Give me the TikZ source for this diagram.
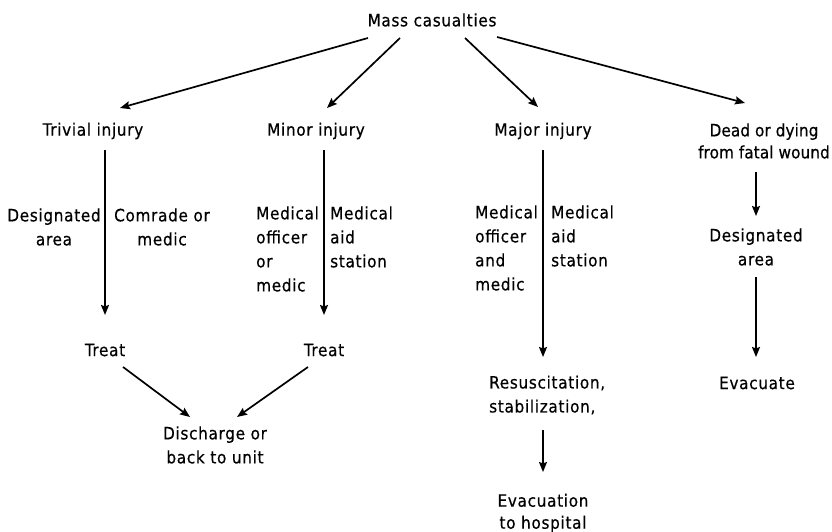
\documentclass[tikz,border=0pt]{standalone}
\usepackage{fontspec}
\setmainfont{DejaVu Sans Condensed}[LetterSpace=4,FakeBold=0.5]
\newfontfamily\tightfont{DejaVu Sans Condensed}[LetterSpace=0.5,FakeBold=0.5]
\usetikzlibrary{arrows.meta}
\begin{document}
\begin{tikzpicture}[x=1pt,y=-1pt,
  lbl/.style={font=\fontsize{17}{24}\selectfont, inner sep=0pt},
  arr/.style={line width=1.7pt, -{Stealth[length=10pt,width=8pt,inset=1.5pt]}}]
\useasboundingbox (0,0) rectangle (832,532);

% top level
\node[lbl] (mass) at (432,20) {Mass casualties};

% categories
\node[lbl] (triv)  at (93,131)  {Trivial injury};
\node[lbl] (minor) at (316,131) {Minor injury};
\node[lbl] (major) at (543,131) {Major injury};
\node[lbl, align=center, font=\tightfont\fontsize{17}{22}\selectfont] (dead) at (764,141) {Dead or dying\\from fatal wound};

% who / where labels beside the vertical arrows
\node[lbl, align=center] (desigL) at (54,227) {Designated\\area};
\node[lbl, align=center] (comrade) at (162,227) {Comrade or\\medic};
\node[lbl, align=left, anchor=west] (minorL) at (256,249) {Medical\\officer\\or\\medic};
\node[lbl, align=left, anchor=west] (minorR) at (330,237) {Medical\\aid\\station};
\node[lbl, align=left, anchor=west] (majorL) at (475,248) {Medical\\officer\\and\\medic};
\node[lbl, align=left, anchor=west] (majorR) at (551,236) {Medical\\aid\\station};
\node[lbl, align=center] (desigD) at (756,247) {Designated\\area};

% outcomes
\node[lbl] (treatL) at (105,350) {Treat};
\node[lbl] (treatR) at (324,350) {Treat};
\node[lbl, align=center] (discharge) at (215,445) {Discharge or\\back to unit};
\node[lbl, align=left, anchor=west] (resus) at (489,395) {Resuscitation,\\stabilization,};
\node[lbl] (evac) at (757,383) {Evacuate};
\node[lbl, align=center, font=\fontsize{17}{22}\selectfont] (hosp) at (543,513) {Evacuation\\to hospital};

% connectors
\draw[arr] ([shift={(-64,18)}]mass.center) -- ([shift={(27,-23)}]triv.center);
\draw[arr] ([shift={(-32,18)}]mass.center) -- ([shift={(11,-23)}]minor.center);
\draw[arr] ([shift={(33,18)}]mass.center) -- ([shift={(-5,-24)}]major.center);
\draw[arr] ([shift={(65,17)}]mass.center) -- ([shift={(-19,-38)}]dead.center);

\draw[arr] ([shift={(12,19)}]triv.center) -- ([shift={(0,-35)}]treatL.center);
\draw[arr] ([shift={(8,19)}]minor.center) -- ([shift={(0,-35)}]treatR.center);
\draw[arr] ([shift={(0,19)}]major.center) -- ([shift={(54,-38)}]resus.west);
\draw[arr] ([shift={(-8,31)}]dead.center) -- ([shift={(0,-31)}]desigD.center);
\draw[arr] ([shift={(0,30)}]desigD.center) -- ([shift={(-1,-26)}]evac.center);

\draw[arr] ([shift={(18,17)}]treatL.center) -- ([shift={(-25,-28)}]discharge.center);
\draw[arr] ([shift={(-16,17)}]treatR.center) -- ([shift={(22,-28)}]discharge.center);
\draw[arr] ([shift={(54,35)}]resus.west) -- ([shift={(0,-41)}]hosp.center);
\end{tikzpicture}
\end{document}
